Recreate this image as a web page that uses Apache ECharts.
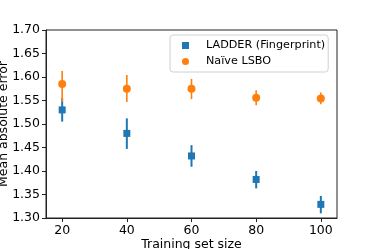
<!DOCTYPE html>
<html><head><meta charset="utf-8">
<script src="https://cdn.jsdelivr.net/npm/echarts@6/dist/echarts.min.js"></script>
<style>html,body{margin:0;padding:0;background:#fff}#c{width:374px;height:249px}</style>
</head><body><div id="c"></div>
<script>
const trainingSizes = [20, 40, 60, 80, 100];
const xTicks = [20, 40, 60, 80, 100];
const ladderMean = [1.530, 1.480, 1.432, 1.382, 1.329];
const ladderLow  = [1.505, 1.447, 1.409, 1.363, 1.310];
const ladderHigh = [1.555, 1.512, 1.455, 1.400, 1.347];
const naiveMean = [1.585, 1.575, 1.575, 1.556, 1.554];
const naiveLow  = [1.547, 1.547, 1.553, 1.540, 1.542];
const naiveHigh = [1.613, 1.604, 1.596, 1.572, 1.567];
const seriesNames = ['LADDER (Fingerprint)', 'Naïve LSBO'];
const BLUE = '#1f77b4', ORANGE = '#ff7f0e';
const FONT = 'DejaVu Sans';

function errSeries(low, high, color, w) {
  return {
    type: 'custom',
    data: trainingSizes.map((x, i) => [x, low[i], high[i]]),
    renderItem: function (params, api) {
      const p1 = api.coord([api.value(0), api.value(1)]);
      const p2 = api.coord([api.value(0), api.value(2)]);
      return {type: 'line', shape: {x1: p1[0], y1: p1[1], x2: p2[0], y2: p2[1]},
              style: {stroke: color, lineWidth: w}};
    },
    silent: true, z: 2
  };
}
const chart = echarts.init(document.getElementById('c'), null, {renderer: 'canvas'});
chart.setOption({
  animation: false,
  textStyle: {fontFamily: FONT},
  grid: {left: 46, top: 30, right: 37, bottom: 31, show: true, borderColor: '#222', borderWidth: 1,
         containLabel: false, outerBoundsMode: 'none'},
  xAxis: {
    type: 'value', min: 15, max: 105,
    name: 'Training set size', nameLocation: 'middle', nameGap: 20, nameMoveOverlap: false,
    nameTextStyle: {fontFamily: FONT, fontSize: 12.5, color: '#000'},
    axisLine: {show: true, lineStyle: {color: '#222'}},
    axisTick: {show: true, inside: false, length: 4, lineStyle: {color: '#222'}, customValues: xTicks},
    axisLabel: {fontFamily: FONT, fontSize: 12.5, color: '#000', margin: 6, customValues: xTicks},
    splitLine: {show: false}
  },
  yAxis: {
    type: 'value', min: 1.30, max: 1.70, interval: 0.05,
    name: 'Mean absolute error', nameLocation: 'middle', nameGap: 36, nameMoveOverlap: false,
    nameTextStyle: {fontFamily: FONT, fontSize: 12.5, color: '#000'},
    axisLine: {show: true, lineStyle: {color: '#222'}},
    axisTick: {show: true, inside: false, length: 4, lineStyle: {color: '#222'}},
    axisLabel: {fontFamily: FONT, fontSize: 12.5, color: '#000', margin: 6, formatter: v => v.toFixed(2)},
    splitLine: {show: false}
  },
  legend: {
    orient: 'vertical', left: 170, top: 35,
    data: seriesNames,
    padding: [5, 3, 5, 12], itemGap: 5, itemWidth: 7, itemHeight: 7,
    borderColor: '#d0d0d0', borderWidth: 1, borderRadius: 3, backgroundColor: '#fff',
    textStyle: {fontFamily: FONT, fontSize: 11.2, color: '#000', padding: [0, 0, 0, 12]}
  },
  series: [
    errSeries(ladderLow, ladderHigh, BLUE, 2),
    {name: seriesNames[0], type: 'scatter', symbol: 'rect', symbolSize: 7,
     itemStyle: {color: BLUE, opacity: 1}, data: trainingSizes.map((x, i) => [x, ladderMean[i]]), z: 3},
    errSeries(naiveLow, naiveHigh, ORANGE, 1.6),
    {name: seriesNames[1], type: 'scatter', symbol: 'circle', symbolSize: 8,
     itemStyle: {color: ORANGE, opacity: 1}, data: trainingSizes.map((x, i) => [x, naiveMean[i]]), z: 3}
  ]
});
</script></body></html>
